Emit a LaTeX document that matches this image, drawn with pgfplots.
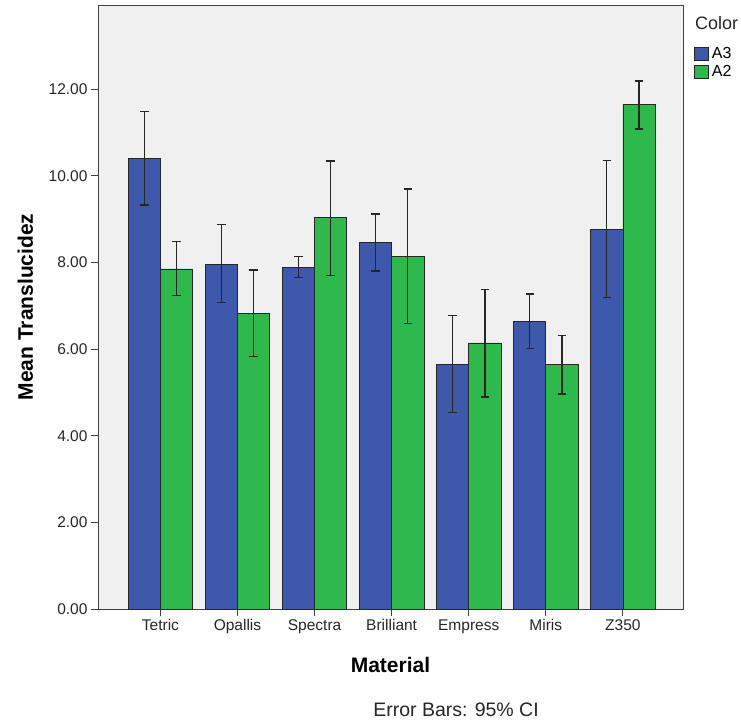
\documentclass[border=0pt]{standalone}
\usepackage{fontspec}
\setmainfont{Liberation Sans}
\usepackage{pgfplots}
\pgfplotsset{compat=1.18}
\usepackage{pgfplotstable}
\definecolor{barblue}{HTML}{3E58AC}
\definecolor{bargreen}{HTML}{2FB84B}
\definecolor{bggray}{HTML}{F0F0F0}
\pgfplotsset{my legend/.style={/pgfplots/legend image code/.code={\draw[##1] (0pt,-6.5pt) rectangle (14pt,6.5pt);}}}

% A3 series: x, mean, error plus, error minus (95% CI)
\pgfplotstableread{
x m ep em
0 10.40 1.08 1.08
1 7.96 0.91 0.89
2 7.89 0.25 0.24
3 8.46 0.66 0.66
4 5.65 1.12 1.12
5 6.64 0.63 0.63
6 8.77 1.58 1.58
}\tabAthree

% A2 series
\pgfplotstableread{
x m ep em
0 7.85 0.63 0.62
1 6.83 0.99 1.00
2 9.03 1.31 1.33
3 8.13 1.56 1.54
4 6.14 1.23 1.25
5 5.65 0.66 0.69
6 11.64 0.55 0.56
}\tabAtwo

\begin{document}
\begin{tikzpicture}
\useasboundingbox (-98pt,-118pt) rectangle (643pt,609pt);
\begin{axis}[
  at={(0pt,0pt)}, anchor=south west,
  scale only axis, width=585pt, height=604pt,
  xmin=-0.81, xmax=6.78, ymin=0, ymax=13.94,
  axis background/.style={fill=bggray},
  axis line style={black!75, line width=0.9pt},
  tick align=outside, major tick length=7pt,
  tick style={black!75, line width=0.9pt},
  xtick pos=bottom, ytick pos=left,
  xtick={0,...,6},
  xticklabels={Tetric,Opallis,Spectra,Brilliant,Empress,Miris,Z350},
  ytick={0,2,...,12},
  yticklabel style={/pgf/number format/fixed, /pgf/number format/fixed zerofill, /pgf/number format/precision=2},
  /pgf/number format/assume math mode=true,
  tick label style={font=\fontsize{15.5}{18}\selectfont, black!85},
  xlabel={\textbf{Material}},
  ylabel={\textbf{Mean Translucidez}},
  xlabel style={at={(axis description cs:0.5,-0.0927)}, anchor=center, font=\fontsize{21}{24}\selectfont},
  ylabel style={at={(axis description cs:-0.124,0.5)}, anchor=center, font=\fontsize{21}{24}\selectfont},
  ybar=0pt, bar width=32.2pt,
  legend style={at={(axis description cs:1.018,0.932)}, anchor=north west, draw=none, fill=none,
    font=\fontsize{16}{19}\selectfont, inner sep=0pt, row sep=2pt, nodes={inner sep=1.5pt}},
  legend cell align=left,
  clip=false,
]
\addplot[fill=barblue, draw=black!85, line width=0.7pt, bar shift=-16.1pt, my legend,
  error bars/.cd, y dir=both, y explicit,
  error bar style={line width=1.4pt, black!85},
  error mark options={rotate=90, line width=1.4pt, mark size=4.2pt, black!85}]
  table[x=x, y=m, y error plus=ep, y error minus=em]{\tabAthree};
\addlegendentry{\hspace{2pt}A3}
\addplot[fill=bargreen, draw=black!85, line width=0.7pt, bar shift=16.1pt, my legend,
  error bars/.cd, y dir=both, y explicit,
  error bar style={line width=1.4pt, black!85},
  error mark options={rotate=90, line width=1.4pt, mark size=4.2pt, black!85}]
  table[x=x, y=m, y error plus=ep, y error minus=em]{\tabAtwo};
\addlegendentry{\hspace{2pt}A2}
\node[anchor=west, font=\fontsize{18}{21}\selectfont, black!85, inner sep=0pt] at (axis description cs:1.0205,0.9697) {Color};
\node[anchor=center, font=\fontsize{19.5}{22}\selectfont, black!85, inner sep=0pt] at (axis description cs:0.612,-0.167) {Error Bars: 95\% CI};
\end{axis}
\end{tikzpicture}
\end{document}
